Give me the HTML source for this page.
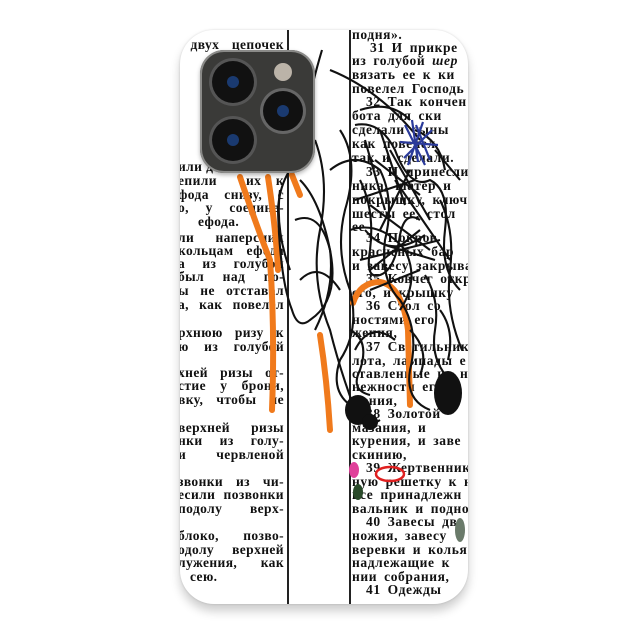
<!DOCTYPE html>
<html><head><meta charset="utf-8"><style>
body{margin:0;width:640px;height:640px;background:#fff;overflow:hidden;position:relative}
.case{position:absolute;left:180px;top:30px;width:288px;height:574px;border-radius:34px;background:#fff;overflow:hidden;box-shadow:0 7px 10px rgba(0,0,0,.2),0 0 2px rgba(0,0,0,.15)}
.t{position:absolute;font:bold 13.5px/14px "Liberation Serif","Noto Serif CJK SC",serif;color:#111;white-space:nowrap;text-align:justify;text-align-last:justify;letter-spacing:.4px}
.l{left:-2px;width:106px}
.r{left:172px;text-align:left;text-align-last:left;word-spacing:3px;letter-spacing:.6px}
.n{text-align-last:left}
.vl{position:absolute;top:0;width:1.6px;height:574px;background:#222}
</style></head><body>
<div class="case">
<div class="vl" style="left:107px"></div>
<div class="vl" style="left:169px"></div>
<div class="t l" style="top:8px">&nbsp;двух цепочек</div>
<div class="t l n" style="top:130px">или д</div>
<div class="t l" style="top:144px">епили &nbsp;их к</div>
<div class="t l" style="top:158px">фода снизу, с</div>
<div class="t l" style="top:171px">о, у соедине-</div>
<div class="t l n" style="top:185px;left:18px">ефода.</div>
<div class="t l" style="top:201px">ли наперсник</div>
<div class="t l" style="top:214px">кольцам ефода</div>
<div class="t l" style="top:227px">а из голубой</div>
<div class="t l" style="top:240px">был над по-</div>
<div class="t l" style="top:254px">ы не отставал</div>
<div class="t l" style="top:268px">а, как повелел</div>
<div class="t l" style="top:296px">рхнюю ризу к</div>
<div class="t l" style="top:310px">ю из голубой</div>
<div class="t l" style="top:336px">хней ризы от-</div>
<div class="t l" style="top:349px">стие у брони,</div>
<div class="t l" style="top:363px">вку, чтобы не</div>
<div class="t l" style="top:391px">верхней ризы</div>
<div class="t l" style="top:404px">нки из голу-</div>
<div class="t l" style="top:418px">и червленой</div>
<div class="t l" style="top:445px">звонки из чи-</div>
<div class="t l" style="top:458px">есили позвонки</div>
<div class="t l" style="top:472px">подолу верх-</div>
<div class="t l" style="top:499px">блоко, позво-</div>
<div class="t l" style="top:513px">одолу верхней</div>
<div class="t l" style="top:526px">лужения, как</div>
<div class="t l n" style="top:540px;left:10px">сею.</div>

<div class="t r" style="top:-2px">подня».</div>
<div class="t r" style="top:11px;left:190px">31 И прикре</div>
<div class="t r" style="top:24px">из голубой <i>шер</i></div>
<div class="t r" style="top:38px">вязать ее к ки</div>
<div class="t r" style="top:52px">повелел Господь</div>
<div class="t r" style="top:65px;left:186px">32 Так кончен</div>
<div class="t r" style="top:79px">бота для ски</div>
<div class="t r" style="top:93px">сделали сыны</div>
<div class="t r" style="top:107px">как повелел</div>
<div class="t r" style="top:121px">так и сделали.</div>
<div class="t r" style="top:135px;left:186px">33 И принесли</div>
<div class="t r" style="top:149px">ника, шатер и</div>
<div class="t r" style="top:163px">покрышку, ключи</div>
<div class="t r" style="top:177px">шесты ее, стол</div>
<div class="t r" style="top:190px">ее</div>
<div class="t r" style="top:201px;left:186px">34 Покров</div>
<div class="t r" style="top:215px">красненых бар</div>
<div class="t r" style="top:229px">и завесу закрыва</div>
<div class="t r" style="top:242px;left:186px">35 Ковчег откр</div>
<div class="t r" style="top:256px">его, и крышку</div>
<div class="t r" style="top:269px;left:186px">36 Стол со</div>
<div class="t r" style="top:283px">ностями его</div>
<div class="t r" style="top:296px">жения,</div>
<div class="t r" style="top:310px;left:186px">37 Светильник</div>
<div class="t r" style="top:324px">лота, лампады е</div>
<div class="t r" style="top:337px">ставленные на н</div>
<div class="t r" style="top:350px">нежности его</div>
<div class="t r" style="top:364px">жения,</div>
<div class="t r" style="top:377px;left:186px">38 Золотой</div>
<div class="t r" style="top:391px">мазания, и</div>
<div class="t r" style="top:404px">курения, и заве</div>
<div class="t r" style="top:418px">скинию,</div>
<div class="t r" style="top:431px;left:186px">39 Жертвенник</div>
<div class="t r" style="top:445px">ную решетку к не</div>
<div class="t r" style="top:458px">все принадлежн</div>
<div class="t r" style="top:472px">вальник и подно</div>
<div class="t r" style="top:485px;left:186px">40 Завесы дво</div>
<div class="t r" style="top:499px">ножия, завесу</div>
<div class="t r" style="top:513px">веревки и колья</div>
<div class="t r" style="top:526px">надлежащие к</div>
<div class="t r" style="top:540px">нии собрания,</div>
<div class="t r" style="top:553px;left:186px">41 Одежды</div>

<svg width="288" height="574" style="position:absolute;left:0;top:0">
<g fill="none" stroke="#f07a1c" stroke-width="6" stroke-linecap="round">
<path d="M60 147 Q78 200 90 230 Q95 300 92 380"/>
<path d="M88 147 Q96 200 98 240"/>
<path d="M112 145 L120 165"/>
<path d="M140 305 Q147 350 150 400"/>
<path d="M173 273 Q180 252 200 252 Q222 255 228 300 L230 375"/>
</g>
<g fill="none" stroke="#111" stroke-width="2.1" stroke-linejoin="round">
<path d="M142 20 Q130 60 118 120 M150 40 Q200 60 240 110"/>
<path d="M130 120 Q100 140 98 180 Q100 250 112 280 Q118 300 130 290 Q160 270 150 220 Q140 170 120 150"/>
<path d="M135 110 Q150 150 140 200 Q130 250 150 300 Q160 340 175 380 Q185 400 200 390"/>
<path d="M160 100 Q180 130 165 180 Q155 220 170 260 Q180 300 160 330 Q150 360 170 375"/>
<path d="M115 190 Q140 180 150 220 Q155 260 135 300 M120 250 Q140 230 160 260"/>
<path d="M150 140 Q175 120 200 140 Q215 170 205 210 Q200 250 220 270 Q240 300 230 340 Q225 370 250 380"/>
<path d="M175 95 Q200 90 215 120 Q230 160 250 150 Q270 160 265 200 Q260 240 280 260"/>
<path d="M180 150 Q195 180 190 220 Q185 250 200 245 Q215 240 220 205 Q225 180 240 190"/>
<path d="M185 110 L205 180 M200 100 L225 175 M195 130 L240 165 M210 120 L250 190 M230 140 L200 200 M190 175 L250 220 M205 215 L255 230 M240 200 L190 240 M260 170 Q275 200 270 240 Q265 280 282 320"/>
<path d="M170 200 Q200 190 225 220 Q240 250 220 280 M245 245 Q260 270 255 300 Q250 330 270 350"/>
<path d="M100 160 Q95 200 110 240 M170 300 Q190 310 180 340 Q170 360 190 365"/>
<path d="M235 100 Q260 110 265 140 M255 120 L280 150 M180 80 Q210 70 230 90"/>
<path d="M175 170 L235 150 M180 230 L260 210 M190 260 L240 240 M215 150 L270 230 M185 200 Q210 230 245 205 M175 320 Q190 290 215 310 M230 300 Q250 320 240 345 M260 280 Q275 300 268 330"/>
</g>
<g fill="none" stroke="#2a3a9a" stroke-width="2.2">
<path d="M225 95 L245 135 M232 90 L238 132 M243 92 L228 135 M252 100 L224 128 M220 112 L258 115 M236 95 L250 130"/>
</g>
<g fill="#111">
<ellipse cx="178" cy="380" rx="13" ry="15"/>
<ellipse cx="268" cy="363" rx="14" ry="22"/>
<ellipse cx="190" cy="392" rx="8" ry="8"/>
</g>
<ellipse cx="174" cy="440" rx="5" ry="8" fill="#e0409a"/>
<ellipse cx="178" cy="462" rx="5" ry="8" fill="#2a4a2a"/>
<ellipse cx="210" cy="444" rx="14" ry="7" fill="none" stroke="#e02020" stroke-width="2.5"/>
<ellipse cx="280" cy="500" rx="5" ry="12" fill="#6a7a6a"/>
</svg>

<div style="position:absolute;left:20px;top:20px;width:115px;height:123px;border-radius:24px;background:#3a3a38;box-shadow:0 0 0 2px #8a8a88 inset,0 2px 4px rgba(0,0,0,.3)"></div>
<div style="position:absolute;left:32px;top:31px;width:42px;height:42px;border-radius:50%;background:#111;box-shadow:0 0 0 3px #555"></div>
<div style="position:absolute;left:32px;top:89px;width:42px;height:42px;border-radius:50%;background:#111;box-shadow:0 0 0 3px #555"></div>
<div style="position:absolute;left:83px;top:61px;width:40px;height:40px;border-radius:50%;background:#111;box-shadow:0 0 0 3px #666"></div>
<div style="position:absolute;left:47px;top:46px;width:12px;height:12px;border-radius:50%;background:#1a3a70"></div>
<div style="position:absolute;left:47px;top:104px;width:12px;height:12px;border-radius:50%;background:#1a3a70"></div>
<div style="position:absolute;left:97px;top:75px;width:12px;height:12px;border-radius:50%;background:#1a3a70"></div>
<div style="position:absolute;left:94px;top:33px;width:18px;height:18px;border-radius:50%;background:#bbb3a8"></div>
</div>
</body></html>
